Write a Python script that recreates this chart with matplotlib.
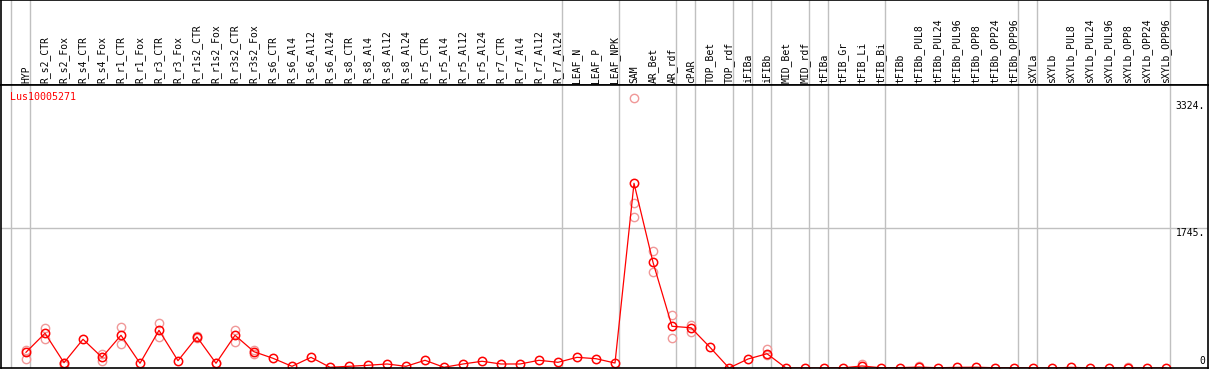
import numpy as np
import matplotlib
matplotlib.use("Agg")
import matplotlib.pyplot as plt

# sample names along the top
samples = ["HYP",
           "R_s2_CTR", "R_s2_Fox", "R_s4_CTR", "R_s4_Fox", "R_r1_CTR", "R_r1_Fox",
           "R_r3_CTR", "R_r3_Fox", "R_r1s2_CTR", "R_r1s2_Fox", "R_r3s2_CTR", "R_r3s2_Fox",
           "R_s6_CTR", "R_s6_Al4", "R_s6_Al12", "R_s6_Al24",
           "R_s8_CTR", "R_s8_Al4", "R_s8_Al12", "R_s8_Al24",
           "R_r5_CTR", "R_r5_Al4", "R_r5_Al12", "R_r5_Al24",
           "R_r7_CTR", "R_r7_Al4", "R_r7_Al12", "R_r7_Al24",
           "LEAF_N", "LEAF_P", "LEAF_NPK",
           "SAM", "AR_Bet", "AR_rdf", "cPAR", "TOP_Bet", "TOP_rdf",
           "iFIBa", "iFIBb", "MID_Bet", "MID_rdf",
           "tFIBa", "tFIB_Gr", "tFIB_Li", "tFIB_Bi",
           "tFIBb", "tFIBb_PUL8", "tFIBb_PUL24", "tFIBb_PUL96",
           "tFIBb_OPP8", "tFIBb_OPP24", "tFIBb_OPP96",
           "sXYLa", "sXYLb", "sXYLb_PUL8", "sXYLb_PUL24", "sXYLb_PUL96",
           "sXYLb_OPP8", "sXYLb_OPP24", "sXYLb_OPP96"]

# mean expression
means = [196, 433, 66, 358, 133, 408, 59, 470, 91, 387, 59, 408, 203,
         121, 21, 133, 9, 21, 34, 50, 21, 96, 9, 50, 84, 50, 50, 96, 71,
         133, 116, 62,
         2303, 1318, 520, 502, 258, 0, 112, 178, 0, 0,
         0, 3, 25, 3, 5, 12, 3, 8, 10, 3, 3,
         0, 0, 8, 2, 0, 3, 0, 0]

# individual replicates (sample index, value)
rep_index = [0, 0, 1, 1, 2, 2, 4, 4, 5, 5, 7, 7, 9, 9, 10, 11, 11, 12, 12,
             32, 32, 32, 33, 33, 34, 34, 35, 35, 39, 39, 44, 47, 58]
rep_value = [228, 108, 502, 358, 66, 34, 175, 87, 511, 299, 561, 390, 399, 370, 66, 470, 324, 224, 175,
             3363, 2054, 1887, 1455, 1193, 661, 370, 532, 453, 233, 162, 50, 20, 10]

# group separators (after these sample indices)
group_ends = [-1, 0, 28, 31, 34, 35, 37, 38, 39, 41, 42, 45, 52, 53, 60]

y_ticks = [0, 1745, 3324]
gene = "Lus10005271"

W, H = 1209, 370
fig = plt.figure(figsize=(W / 100, H / 100), dpi=100)
mono = "DejaVu Sans Mono"

x = np.arange(len(samples))
xlim = ((1 - 26) / 19, (1208 - 26) / 19)

# header with rotated names
head = fig.add_axes([1 / W, (H - 85) / H, 1207 / W, 85 / H])
head.set_xlim(xlim)
head.set_ylim(0, 85)
for i, s in enumerate(samples):
    head.text(i, 2, s, rotation=90, ha="center", va="bottom",
              fontsize=7, family=mono, color="black")

# data panel
ax = fig.add_axes([1 / W, 2 / H, 1207 / W, 283 / H])
ax.set_xlim(xlim)
ax.set_ylim(0, 283 / 0.0802)

for b in group_ends:
    head.axvline(b + 4 / 19, color="#c0c0c0", lw=1)
    ax.axvline(b + 4 / 19, color="#c0c0c0", lw=1)
ax.axhline(1745, color="#c0c0c0", lw=1)

ax.plot(rep_index, rep_value, "o", mfc="none", mec="#f09898", ms=6, mew=1)
ax.plot(x, means, "-", color="red", lw=0.9)
ax.plot(x, means, "o", mfc="none", mec="red", ms=6, mew=1.1)

for t in y_ticks:
    va = "bottom" if t == 0 else "top"
    yy = t + 20 if t == 0 else t
    ax.text(0.9975, yy, "%d." % t if t else "0", transform=ax.get_yaxis_transform(),
            ha="right", va=va, fontsize=7, family=mono)

ax.text(9 / 1207, 1 - 12 / 283, gene, transform=ax.transAxes, color="red",
        fontsize=7.2, family=mono, va="center", ha="left")

for a in (head, ax):
    a.set_xticks([])
    a.set_yticks([])
    for sp in a.spines.values():
        sp.set_color("black")
        sp.set_linewidth(1.2)

fig.savefig("out.png", dpi=100)
